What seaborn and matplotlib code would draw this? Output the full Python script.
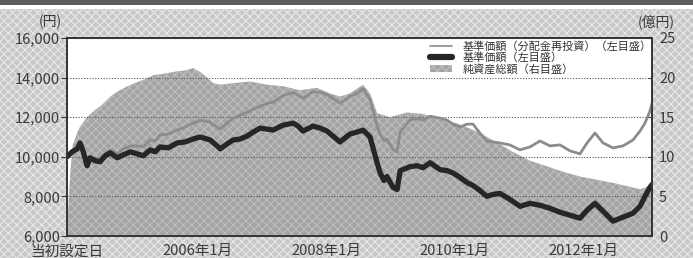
import matplotlib
matplotlib.use("Agg")
import matplotlib.pyplot as plt
from matplotlib.patches import Rectangle, Patch
from matplotlib.lines import Line2D
import pandas as pd
import seaborn as sns

# ---------------- data ----------------
nav_dates = [
    "2003-12-20", "2004-01-18", "2004-02-16", "2004-03-03", "2004-03-20", "2004-04-12",
    "2004-04-29", "2004-05-28", "2004-06-25", "2004-07-24", "2004-08-22", "2004-10-01",
    "2004-11-04", "2004-12-14", "2005-01-22", "2005-02-25", "2005-04-06", "2005-05-04",
    "2005-06-01", "2005-07-17", "2005-09-06", "2005-10-21", "2005-12-06", "2006-01-15",
    "2006-03-12", "2006-04-21", "2006-05-08", "2006-06-17", "2006-07-21", "2006-08-30",
    "2006-10-09", "2006-11-12", "2006-12-21", "2007-01-30", "2007-03-05", "2007-05-01",
    "2007-06-27", "2007-07-25", "2007-08-22", "2007-10-18", "2007-11-27", "2008-01-05",
    "2008-02-08", "2008-03-19", "2008-05-15", "2008-06-24", "2008-07-28", "2008-09-06",
    "2008-10-16", "2008-11-02", "2008-11-24", "2008-12-11", "2009-01-15", "2009-02-07",
    "2009-02-24", "2009-04-21", "2009-05-31", "2009-07-04", "2009-08-13", "2009-10-09",
    "2009-11-18", "2009-12-22", "2010-01-31", "2010-03-11", "2010-04-14", "2010-05-23",
    "2010-07-02", "2010-08-05", "2010-09-14", "2010-11-09", "2011-01-06", "2011-03-04",
    "2011-04-30", "2011-06-25", "2011-08-21", "2011-10-17", "2011-12-13", "2012-01-22",
    "2012-03-07", "2012-04-22", "2012-06-17", "2012-08-13", "2012-10-09", "2012-11-18",
    "2012-12-16", "2013-01-13", "2013-01-25",
]
nav = [
    10000, 10250, 10400, 10700, 10300, 9550,
    9950, 9800, 9750, 10050, 10200, 9950,
    10100, 10250, 10150, 10050, 10350, 10250,
    10500, 10450, 10700, 10750, 10900, 11000,
    10850, 10550, 10400, 10650, 10850, 10900,
    11050, 11250, 11450, 11400, 11350, 11600,
    11700, 11550, 11300, 11550, 11450, 11300,
    11050, 10750, 11150, 11250, 11350, 11000,
    9700, 9200, 8800, 9000, 8450, 8350,
    9300, 9500, 9550, 9450, 9700, 9350,
    9300, 9180, 8950, 8700, 8550, 8300,
    8000, 8100, 8150, 7850, 7500, 7650,
    7550, 7400, 7200, 7050, 6900, 7300,
    7650, 7250, 6750, 6950, 7150, 7500,
    8000, 8450, 8600,
]
nav_reinvested = [
    10000, 10250, 10420, 10750, 10350, 9600,
    10000, 9880, 9850, 10150, 10350, 10150,
    10400, 10550, 10550, 10500, 10850, 10800,
    11100, 11150, 11350, 11500, 11700, 11850,
    11750, 11500, 11400, 11700, 11950, 12100,
    12250, 12400, 12550, 12700, 12750, 13100,
    13250, 13100, 12950, 13300, 13250, 13150,
    12950, 12700, 13050, 13200, 13450, 12900,
    11550, 11150, 10800, 10900, 10350, 10250,
    11250, 11850, 11950, 11850, 12050, 11950,
    11850, 11650, 11500, 11650, 11650, 11200,
    10800, 10750, 10700, 10600, 10350, 10500,
    10800, 10550, 10600, 10300, 10150, 10700,
    11200, 10700, 10450, 10550, 10850, 11300,
    11700, 12300, 12700,
]
aum_dates = [
    "2003-12-20", "2003-12-26", "2004-01-08", "2004-01-22", "2004-02-16", "2004-03-03",
    "2004-04-12", "2004-05-17", "2004-07-13", "2004-08-22", "2004-10-07", "2004-11-27",
    "2005-01-08", "2005-02-25", "2005-04-24", "2005-06-27", "2005-09-06", "2005-10-21",
    "2005-12-06", "2006-01-15", "2006-02-23", "2006-03-29", "2006-05-08", "2006-07-21",
    "2006-10-27", "2007-01-30", "2007-05-01", "2007-08-04", "2007-11-09", "2008-01-22",
    "2008-03-19", "2008-05-15", "2008-07-28", "2008-09-06", "2008-10-16", "2008-12-29",
    "2009-04-03", "2009-07-04", "2009-10-09", "2010-01-14", "2010-04-14", "2010-07-02",
    "2010-08-28", "2010-11-27", "2011-03-04", "2011-06-08", "2011-09-08", "2011-12-13",
    "2012-03-18", "2012-06-17", "2012-09-23", "2012-11-18", "2012-12-27", "2013-01-25",
]
aum = [
    0, 3, 8, 11.5, 13, 13.8,
    15, 15.7, 16.7, 17.6, 18.3, 18.9,
    19.3, 19.7, 20.3, 20.5, 20.8, 20.9,
    21.2, 20.7, 20.0, 19.3, 19.1, 19.3,
    19.5, 19.1, 18.9, 18.4, 18.7, 18.0,
    17.6, 18.0, 19.1, 18.0, 15.5, 15.0,
    15.6, 15.4, 14.7, 14.2, 13.4, 12.5,
    11.8, 10.6, 9.5, 8.8, 8.1, 7.5,
    7.1, 6.7, 6.2, 5.9, 6.2, 6.6,
]
x_tick_dates = ["2003-12-20", "2006-01-01", "2008-01-01", "2010-01-01", "2012-01-01"]
x_tick_labels = ["当初設定日", "2006年1月", "2008年1月", "2010年1月", "2012年1月"]
left_ticks = [6000, 8000, 10000, 12000, 14000, 16000]
right_ticks = [0, 5, 10, 15, 20, 25]
legend_labels = ["基準価額（分配金再投資）（左目盛）", "基準価額（左目盛）", "純資産総額（右目盛）"]

# ---------------- style ----------------
sns.set_style("white")
plt.rcParams["font.family"] = ["Noto Sans CJK JP", "DejaVu Sans"]
plt.rcParams["hatch.linewidth"] = 0.9

W, H = 693, 258
fig = plt.figure(figsize=(W / 100, H / 100), dpi=100)
fig.patch.set_facecolor("white")

# hatched page background + dark top bar
fig.patches.append(Rectangle((0, 0), 1, 1 - 9 / H, transform=fig.transFigure,
                             facecolor="#c8c8c8", edgecolor="#e6e6e6", hatch="xxxx",
                             lw=0, zorder=-10))
fig.patches.append(Rectangle((0, 1 - 5 / H), 1, 5 / H, transform=fig.transFigure,
                             facecolor="#5c5c5c", lw=0, zorder=-9))

L, R, T, B = 67, 652, 38, 236
rect = [L / W, 1 - B / H, (R - L) / W, (B - T) / H]
ax = fig.add_axes(rect)
ax2 = ax.twinx()
ax.set_zorder(2)
ax2.set_zorder(1)
ax.patch.set_visible(False)
ax2.patch.set_facecolor("white")
ax2.patch.set_visible(True)

df = pd.DataFrame({"date": pd.to_datetime(nav_dates), "nav": nav, "reinv": nav_reinvested})
adf = pd.DataFrame({"date": pd.to_datetime(aum_dates), "aum": aum})

area_face = "#a4a4a4"
area_hatch = "#bcbcbc"
ax2.fill_between(adf["date"], 0, adf["aum"], facecolor=area_face, edgecolor=area_hatch,
                 hatch="xxxx", lw=0)

sns.lineplot(data=df, x="date", y="reinv", ax=ax, color="#8c8c8c", lw=2.0)
sns.lineplot(data=df, x="date", y="nav", ax=ax, color="#262626", lw=3.8)

xmin, xmax = pd.Timestamp("2003-12-20"), pd.Timestamp("2013-01-25")
ax.set_xlim(xmin, xmax)
ax.set_ylim(6000, 16000)
ax2.set_ylim(0, 25)

ax.set_yticks(left_ticks)
ax.set_yticklabels([f"{v:,}" for v in left_ticks])
ax2.set_yticks(right_ticks)
ax2.set_yticklabels([str(v) for v in right_ticks])
ax.set_xticks(pd.to_datetime(x_tick_dates))
ax.set_xticklabels(x_tick_labels)

ax.set_xlabel("")
ax.set_ylabel("")
ax2.set_ylabel("")

tc = "#3a3a3a"
ax.tick_params(axis="y", direction="out", length=4, width=0.8, pad=1, labelsize=10.5,
               colors=tc)
ax.tick_params(axis="x", direction="in", length=3, width=0.8, pad=6, labelsize=10.5,
               colors=tc)
ax2.tick_params(axis="y", direction="in", length=3, width=0.8, pad=5, labelsize=10.5,
                colors=tc)

ax.grid(axis="y", linestyle=(0, (1, 1.5)), color="#555555", lw=0.8)
ax.grid(axis="x", visible=False)
ax2.grid(False)
for a in (ax, ax2):
    for s in a.spines.values():
        s.set_color("#333333")
        s.set_linewidth(1.2)

fig.text(50 / W, 1 - 22 / H, "(円)", ha="center", va="center", fontsize=10, color=tc)
fig.text(656 / W, 1 - 22 / H, "(億円)", ha="center", va="center", fontsize=10, color=tc)

handles = [Line2D([], [], color="#8c8c8c", lw=1.2),
           Line2D([], [], color="#262626", lw=4.5),
           Patch(facecolor=area_face, edgecolor=area_hatch, hatch="xxxx", lw=0)]
ax.legend(handles=handles, labels=legend_labels, loc="upper left",
          bbox_to_anchor=((430 - L) / (R - L), (B - 41) / (B - T)),
          frameon=False, fontsize=8, handlelength=2.0, handleheight=0.7,
          handletextpad=0.9, labelspacing=0.05, borderaxespad=0, borderpad=0,
          labelcolor="#333333")

fig.savefig("out.png", dpi=100)
